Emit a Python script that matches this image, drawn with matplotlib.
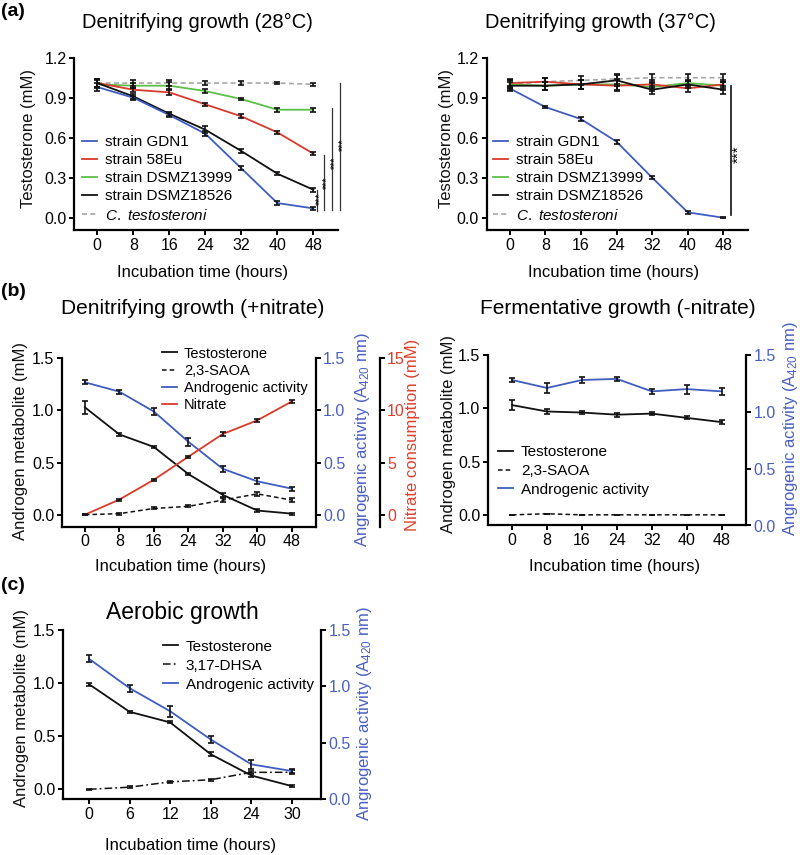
import matplotlib
matplotlib.use("Agg")
import matplotlib.pyplot as plt
import numpy as np

plt.rcParams['font.family'] = ['Liberation Sans', 'DejaVu Sans']
plt.rcParams['mathtext.fontset'] = 'custom'
plt.rcParams['mathtext.rm'] = 'Liberation Sans'
plt.rcParams['mathtext.it'] = 'Liberation Sans:italic'

W, H = 800, 855
BLUE = '#3f5cc0'
RED = '#d93a2b'
GREEN = '#5cbf48'
GRAY = '#a6a6a6'
BLACK = '#111111'
AXBLUE = '#4a5fc1'
AXRED = '#e0402c'

# ---------------- data ----------------
t48 = [0, 8, 16, 24, 32, 40, 48]
t30 = [0, 6, 12, 18, 24, 30]

# (a) 28 C
a28_gdn1 = [0.98, 0.90, 0.77, 0.63, 0.37, 0.11, 0.07]
a28_58eu = [1.01, 0.96, 0.94, 0.85, 0.76, 0.64, 0.48]
a28_13999 = [1.00, 0.99, 0.99, 0.95, 0.89, 0.81, 0.81]
a28_18526 = [1.01, 0.91, 0.78, 0.66, 0.50, 0.33, 0.21]
a28_ctest = [1.01, 1.01, 1.01, 1.01, 1.01, 1.01, 1.00]
a28_gdn1_e = [0.03, 0.015, 0.015, 0.02, 0.015, 0.015, 0.01]
a28_58eu_e = [0.03, 0.015, 0.02, 0.01, 0.015, 0.01, 0.01]
a28_13999_e = [0.03, 0.02, 0.025, 0.015, 0.01, 0.015, 0.015]
a28_18526_e = [0.03, 0.02, 0.015, 0.025, 0.015, 0.01, 0.015]
a28_ctest_e = [0.03, 0.02, 0.02, 0.015, 0.015, 0.01, 0.012]
# significance bars at 48 h (28 C): bar x, top, bottom, label x, label y
sig28_x = [48.75, 50.3, 52.1, 53.9]
sig28_top = [0.21, 0.47, 0.82, 1.01]
sig28_bot = [0.05, 0.06, 0.06, 0.06]
sig28_tx = [49.5, 51.1, 52.8, 54.6]
sig28_ty = [0.14, 0.26, 0.41, 0.55]

# (a) 37 C
a37_gdn1 = [0.97, 0.83, 0.74, 0.57, 0.30, 0.04, 0.00]
a37_58eu = [1.01, 1.02, 1.00, 0.99, 1.00, 0.97, 1.00]
a37_13999 = [1.00, 0.99, 1.00, 1.00, 0.98, 1.01, 0.99]
a37_18526 = [0.99, 0.99, 1.00, 1.03, 0.96, 1.00, 0.96]
a37_ctest = [1.00, 1.02, 1.03, 1.04, 1.05, 1.05, 1.05]
a37_gdn1_e = [0.02, 0.01, 0.015, 0.015, 0.01, 0.01, 0.005]
a37_other_e = [0.03, 0.03, 0.035, 0.04, 0.03, 0.025, 0.03]

# (b) +nitrate
bn_testo = [1.03, 0.77, 0.65, 0.39, 0.19, 0.04, 0.01]
bn_testo_e = [0.06, 0.015, 0.01, 0.01, 0.02, 0.01, 0.01]
bn_saoa = [0.00, 0.01, 0.06, 0.08, 0.14, 0.20, 0.14]
bn_saoa_e = [0.005, 0.01, 0.01, 0.01, 0.02, 0.02, 0.02]
bn_act = [1.27, 1.18, 0.99, 0.70, 0.44, 0.32, 0.25]
bn_act_e = [0.02, 0.02, 0.03, 0.04, 0.03, 0.03, 0.02]
bn_nitrate = [0.0, 1.45, 3.35, 5.56, 7.74, 9.05, 10.86]
bn_nitrate_e = [0.05, 0.1, 0.1, 0.1, 0.15, 0.15, 0.15]

# (b) -nitrate
bf_testo = [1.03, 0.97, 0.96, 0.94, 0.95, 0.91, 0.87]
bf_testo_e = [0.05, 0.02, 0.015, 0.02, 0.015, 0.015, 0.02]
bf_saoa = [0.00, 0.01, 0.00, 0.00, 0.00, 0.00, 0.00]
bf_act = [1.28, 1.21, 1.28, 1.29, 1.18, 1.20, 1.18]
bf_act_e = [0.02, 0.04, 0.03, 0.02, 0.02, 0.04, 0.03]

# (c) aerobic
c_testo = [0.99, 0.73, 0.63, 0.33, 0.13, 0.03]
c_testo_e = [0.015, 0.01, 0.01, 0.02, 0.01, 0.01]
c_dhsa = [0.00, 0.02, 0.07, 0.09, 0.16, 0.16]
c_dhsa_e = [0.005, 0.01, 0.01, 0.01, 0.01, 0.02]
c_act = [1.245, 0.985, 0.78, 0.53, 0.31, 0.25]
c_act_e = [0.03, 0.03, 0.05, 0.03, 0.04, 0.02]

strain_labels = ['strain GDN1', 'strain 58Eu', 'strain DSMZ13999', 'strain DSMZ18526']

# ---------------- helpers ----------------
fig = plt.figure(figsize=(W / 100, H / 100), dpi=100)

FS_TICK = 11.5
FS_LAB = 12
FS_LEG = 11


def fx(x):
    return x / W


def fy(y):
    return 1 - y / H


def make_ax(x0, y0, x1, y1):
    ax = fig.add_axes([fx(x0), fy(y1), (x1 - x0) / W, (y1 - y0) / H])
    for s in ['top', 'right']:
        ax.spines[s].set_visible(False)
    for s in ['left', 'bottom']:
        ax.spines[s].set_linewidth(1.6)
    ax.tick_params(direction='out', length=3.5, width=1.4, labelsize=FS_TICK, pad=2)
    ax.patch.set_alpha(0)
    return ax


def style_right(ax, color):
    ax.spines['right'].set_visible(True)
    ax.spines['right'].set_linewidth(1.6)
    for s in ['top', 'left', 'bottom']:
        ax.spines[s].set_visible(False)
    ax.tick_params(direction='out', length=3.5, width=1.4, labelsize=FS_TICK,
                   labelcolor=color, pad=2)


def eb(ax, x, y, e, color, ls='-', lw=1.3, zorder=3):
    ax.plot(x, y, color=color, ls=ls, lw=lw, zorder=zorder)
    ax.errorbar(x, y, yerr=e, fmt='none', ecolor=BLACK, elinewidth=1.2,
                capsize=2, capthick=1.2, zorder=zorder + 1)


def xlabel(ax, text, x, y):
    ax.set_xlabel(text, fontsize=FS_LAB)
    ax.xaxis.set_label_coords(fx(x), fy(y), transform=fig.transFigure)
    ax.xaxis.label.set_va('center')


def ylabel(ax, text, x, y, color=BLACK):
    ax.set_ylabel(text, fontsize=FS_LAB, color=color)
    ax.yaxis.set_label_coords(fx(x), fy(y), transform=fig.transFigure)
    ax.yaxis.label.set_va('center')
    ax.yaxis.label.set_ha('center')
    ax.yaxis.label.set_rotation_mode('anchor')


def legend(ax, handles, labels, x, y, spacing=0.2, fs=FS_LEG):
    ax.legend(handles, labels, loc='upper left',
              bbox_to_anchor=(fx(x), fy(y)), bbox_transform=fig.transFigure,
              frameon=False, fontsize=fs, handlelength=1.0,
              handletextpad=0.5, labelspacing=spacing, borderpad=0,
              borderaxespad=0)


dash = (0, (3, 2))
dashdot = (0, (5, 2, 1.2, 2))

# ---------------- (a) 28 C ----------------
ax = make_ax(74.3, 57.7, 337.7, 230)
ax.set_xlim(-5.1, 53.4)
ax.set_ylim(-0.092, 1.2)
ax.set_xticks(t48)
ax.set_yticks([0.0, 0.3, 0.6, 0.9, 1.2])
ax.yaxis.set_major_formatter(matplotlib.ticker.FormatStrFormatter('%.1f'))
eb(ax, t48, a28_ctest, a28_ctest_e, GRAY, ls=dash, lw=1.2)
eb(ax, t48, a28_13999, a28_13999_e, GREEN)
eb(ax, t48, a28_58eu, a28_58eu_e, RED)
eb(ax, t48, a28_18526, a28_18526_e, BLACK)
eb(ax, t48, a28_gdn1, a28_gdn1_e, BLUE)
h = [plt.Line2D([], [], color=c, lw=1.3) for c in [BLUE, RED, GREEN, BLACK]]
h.append(plt.Line2D([], [], color=GRAY, lw=1.2, ls=dash))
legend(ax, h, strain_labels + [r'$\it{C.\ testosteroni}$'], 81.7, 135, 0.27)
for xs, top, bot, tx, ty in zip(sig28_x, sig28_top, sig28_bot, sig28_tx, sig28_ty):
    ax.plot([xs, xs], [bot, top], color='#333333', lw=0.9, clip_on=False)
    ax.text(tx, ty, '***', rotation=90, fontsize=7.5,
            ha='center', va='center', clip_on=False)
xlabel(ax, 'Incubation time (hours)', 203, 273)
ylabel(ax, 'Testosterone (mM)', 28, 139)

# ---------------- (a) 37 C ----------------
ax = make_ax(486.5, 57.7, 748, 230)
ax.set_xlim(-5.2, 53.5)
ax.set_ylim(-0.092, 1.2)
ax.set_xticks(t48)
ax.set_yticks([0.0, 0.3, 0.6, 0.9, 1.2])
ax.yaxis.set_major_formatter(matplotlib.ticker.FormatStrFormatter('%.1f'))
eb(ax, t48, a37_ctest, a37_other_e, GRAY, ls=dash, lw=1.2)
eb(ax, t48, a37_13999, a37_other_e, GREEN)
eb(ax, t48, a37_58eu, a37_other_e, RED)
eb(ax, t48, a37_18526, a37_other_e, BLACK)
eb(ax, t48, a37_gdn1, a37_gdn1_e, BLUE)
h = [plt.Line2D([], [], color=c, lw=1.3) for c in [BLUE, RED, GREEN, BLACK]]
h.append(plt.Line2D([], [], color=GRAY, lw=1.2, ls=dash))
legend(ax, h, strain_labels + [r'$\it{C.\ testosteroni}$'], 493, 135, 0.27)
ax.plot([49.6, 49.6], [0.02, 0.99], color=BLACK, lw=1.2, clip_on=False)
ax.text(51.3, 0.48, '***', rotation=90, fontsize=11, ha='center', va='center', clip_on=False)
xlabel(ax, 'Incubation time (hours)', 613.5, 273)
ylabel(ax, 'Testosterone (mM)', 447, 138)

# ---------------- (b) +nitrate ----------------
ax = make_ax(62, 358.3, 315.5, 526.7)
ax.set_xlim(-5.3, 53.5)
ax.set_ylim(-0.115, 1.5)
ax.set_xticks(t48)
ax.set_yticks([0.0, 0.5, 1.0, 1.5])
ax.yaxis.set_major_formatter(matplotlib.ticker.FormatStrFormatter('%.1f'))
axr = ax.twinx()
style_right(axr, AXBLUE)
axr.set_ylim(-0.115, 1.5)
axr.set_yticks([0.0, 0.5, 1.0, 1.5])
axr.yaxis.set_major_formatter(matplotlib.ticker.FormatStrFormatter('%.1f'))
axn = ax.twinx()
style_right(axn, AXRED)
axn.spines['right'].set_position(('axes', (380 - 62) / (315.5 - 62)))
axn.set_ylim(-1.15, 15)
axn.set_yticks([0, 5, 10, 15])
axn.tick_params(pad=1.5)
eb(ax, t48, bn_saoa, bn_saoa_e, BLACK, ls=dash, lw=1.1)
eb(ax, t48, bn_testo, bn_testo_e, BLACK)
eb(axr, t48, bn_act, bn_act_e, BLUE)
eb(axn, t48, bn_nitrate, bn_nitrate_e, RED)
h = [plt.Line2D([], [], color=BLACK, lw=1.3),
     plt.Line2D([], [], color=BLACK, lw=1.1, ls=dash),
     plt.Line2D([], [], color=BLUE, lw=1.3),
     plt.Line2D([], [], color=RED, lw=1.3)]
legend(axn, h, ['Testosterone', '2,3-SAOA', 'Androgenic activity', 'Nitrate'], 162, 346.5, 0.22, 10.5)
xlabel(ax, 'Incubation time (hours)', 181, 567)
ylabel(ax, 'Androgen metabolite (mM)', 21, 441)
ylabel(axr, r'Angrogenic activity (A$_{420}$ nm)', 362, 439, AXBLUE)
ylabel(axn, 'Nitrate consumption (mM)', 412, 435, AXRED)

# ---------------- (b) -nitrate ----------------
ax = make_ax(488, 355, 745.7, 525.5)
ax.set_xlim(-5.5, 53.5)
ax.set_ylim(-0.1, 1.5)
ax.set_xticks(t48)
ax.set_yticks([0.0, 0.5, 1.0, 1.5])
ax.yaxis.set_major_formatter(matplotlib.ticker.FormatStrFormatter('%.1f'))
axr = ax.twinx()
style_right(axr, AXBLUE)
axr.set_ylim(0, 1.5)
axr.set_yticks([0.0, 0.5, 1.0, 1.5])
axr.yaxis.set_major_formatter(matplotlib.ticker.FormatStrFormatter('%.1f'))
eb(ax, t48, bf_saoa, [0] * 7, BLACK, ls=dash, lw=1.1)
eb(ax, t48, bf_testo, bf_testo_e, BLACK)
eb(axr, t48, bf_act, bf_act_e, BLUE)
h = [plt.Line2D([], [], color=BLACK, lw=1.3),
     plt.Line2D([], [], color=BLACK, lw=1.1, ls=dash),
     plt.Line2D([], [], color=BLUE, lw=1.3)]
legend(axr, h, ['Testosterone', '2,3-SAOA', 'Androgenic activity'], 498, 445.5, 0.3)
xlabel(ax, 'Incubation time (hours)', 614.5, 567)
ylabel(ax, 'Androgen metabolite (mM)', 448, 434)
ylabel(axr, r'Angrogenic activity (A$_{420}$ nm)', 791, 428, AXBLUE)

# ---------------- (c) aerobic ----------------
ax = make_ax(63, 630, 321, 799.3)
ax.set_xlim(-3.84, 34.3)
ax.set_ylim(-0.094, 1.5)
ax.set_xticks(t30)
ax.set_yticks([0.0, 0.5, 1.0, 1.5])
ax.yaxis.set_major_formatter(matplotlib.ticker.FormatStrFormatter('%.1f'))
axr = ax.twinx()
style_right(axr, AXBLUE)
axr.set_ylim(0, 1.5)
axr.set_yticks([0.0, 0.5, 1.0, 1.5])
axr.yaxis.set_major_formatter(matplotlib.ticker.FormatStrFormatter('%.1f'))
eb(ax, t30, c_dhsa, c_dhsa_e, BLACK, ls=dashdot, lw=1.1)
eb(ax, t30, c_testo, c_testo_e, BLACK)
eb(axr, t30, c_act, c_act_e, BLUE)
h = [plt.Line2D([], [], color=BLACK, lw=1.3),
     plt.Line2D([], [], color=BLACK, lw=1.1, ls=dashdot),
     plt.Line2D([], [], color=BLUE, lw=1.3)]
legend(axr, h, ['Testosterone', '3,17-DHSA', 'Androgenic activity'], 163, 639.5, 0.33)
xlabel(ax, 'Incubation time (hours)', 191, 845)
ylabel(ax, 'Androgen metabolite (mM)', 22, 708)
ylabel(axr, r'Angrogenic activity (A$_{420}$ nm)', 365, 713, AXBLUE)

# ---------------- titles & panel letters ----------------
fig.text(fx(197), fy(22), 'Denitrifying growth (28°C)', fontsize=14.5, ha='center', va='center')
fig.text(fx(600), fy(22), 'Denitrifying growth (37°C)', fontsize=14.5, ha='center', va='center')
fig.text(fx(192.5), fy(309), 'Denitrifying growth (+nitrate)', fontsize=15, ha='center', va='center')
fig.text(fx(617.5), fy(309), 'Fermentative growth (-nitrate)', fontsize=15, ha='center', va='center')
fig.text(fx(182), fy(612), 'Aerobic growth', fontsize=16.5, ha='center', va='center')
for lab, y in [('(a)', 12), ('(b)', 291), ('(c)', 586)]:
    fig.text(fx(1), fy(y), lab, fontsize=14, fontweight='bold', ha='left', va='center')

fig.savefig('out.png', dpi=100)
